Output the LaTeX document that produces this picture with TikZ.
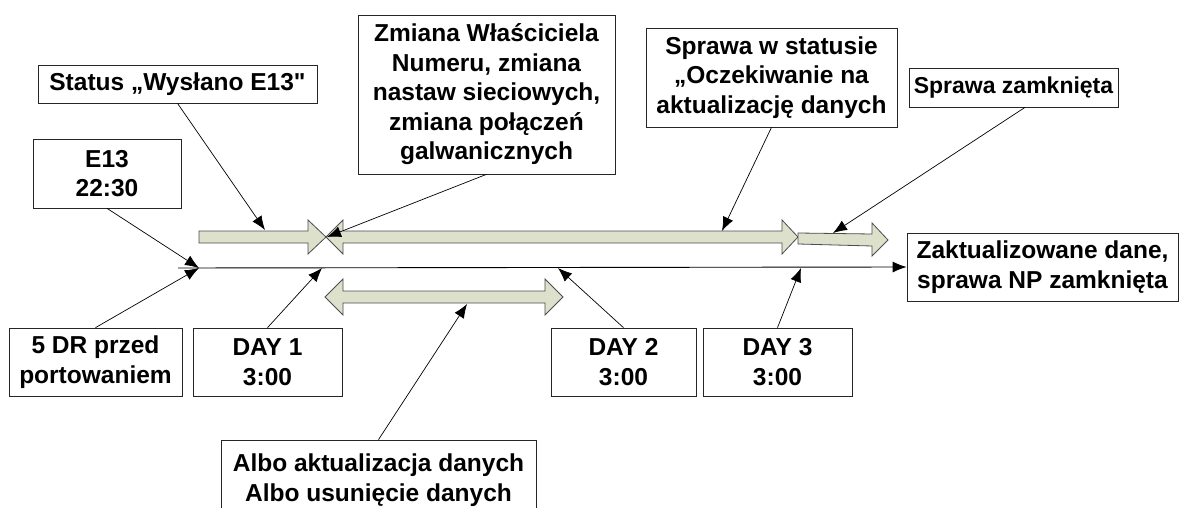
\documentclass[tikz,border=0pt]{standalone}
\usepackage{fontspec}
\setmainfont{Liberation Sans}[Ligatures=TeXOff]
\usepackage{tikz}
\usetikzlibrary{calc,arrows.meta}
\definecolor{barfill}{RGB}{221,224,203}
\tikzset{
	callout/.style = {draw=black!85, line width=0.7pt, align=center, inner sep=0pt,
		font=\fontsize{24.5}{29.5}\selectfont\bfseries},
	bar/.style = {fill=barfill, draw=black!70, line width=0.8pt, line join=miter},
	pointer/.style = {-{Latex[length=14pt,width=11pt]}, line width=0.7pt}
}

\begin{document}
\begin{tikzpicture}[x=1pt,y=-1pt]
	\useasboundingbox (0,0) rectangle (1180,508);
	\clip (0,0) rectangle (1180,508);
	% block arrows
	\draw[bar] (199,231) -- (308,231) -- (308,220) -- (326,237) -- (308,254) -- (308,243) -- (199,243) -- cycle;
	\draw[bar] (326,237) -- (343,220) -- (343,231) -- (782,231) -- (782,220) -- (798,237) -- (782,254) -- (782,243) -- (343,243) -- (343,254) -- cycle;
	\draw[bar] (798,233) -- (872,234) -- (872,223) -- (888,240) -- (872,256) -- (872,246) -- (798,244) -- cycle;
	\draw[bar] (325,297) -- (343,279) -- (343,291) -- (545,291) -- (545,279) -- (563,297) -- (545,315) -- (545,303) -- (343,303) -- (343,315) -- cycle;

	% boxes
	\node[callout, minimum width=279pt, minimum height=38pt] (status) at (177.5,84) {Status „Wysłano E13"};
	\node[callout, minimum width=148pt, minimum height=69pt] (e13) at (107,173.5) {E13\\22:30};
	\node[callout, minimum width=257pt, minimum height=159pt] (zmiana) at (486.5,94.5) {Zmiana Właściciela\\Numeru, zmiana\\nastaw sieciowych,\\zmiana połączeń\\galwanicznych};
	\node[callout, minimum width=251pt, minimum height=99pt] (oczek) at (771.5,77.5) {Sprawa w statusie\\„Oczekiwanie na\\aktualizację danych};
	\node[callout, minimum width=209pt, minimum height=39pt, font=\fontsize{23}{28}\selectfont\bfseries] (zamk) at (1013.5,87.5) {Sprawa zamknięta};
	\node[callout, minimum width=271pt, minimum height=68pt] (zakt) at (1042.5,267) {Zaktualizowane dane,\\sprawa NP zamknięta};
	\node[callout, minimum width=173pt, minimum height=68pt] (dr5) at (95.5,362) {5 DR przed\\portowaniem};
	\node[callout, minimum width=149pt, minimum height=68pt] (day1) at (267.5,362) {DAY 1\\3:00};
	\node[callout, minimum width=145pt, minimum height=68pt] (day2) at (623.5,362) {DAY 2\\3:00};
	\node[callout, minimum width=149pt, minimum height=68pt] (day3) at (777.5,362) {DAY 3\\3:00};
	\node[callout, minimum width=315pt, minimum height=80pt] (albo) at (378.5,480) {Albo aktualizacja danych\\Albo usunięcie danych};

	% time line
	\coordinate (t0) at (178,268);
	\draw[pointer, line width=0.9pt] (t0) -- (zakt.west);

	% pointers
	\coordinate (tStatus) at (265,230);
	\coordinate (tE13) at (199,268);
	\coordinate (tDay1) at (322,268);
	\coordinate (tZmiana) at (327,237);
	\coordinate (tOczek) at (722,231);
	\coordinate (tZamk) at (833,233);
	\coordinate (tDay2) at (558,268);
	\coordinate (tDay3) at (801,268);
	\coordinate (tAlbo) at (467,304);
	\draw[pointer] (status.south) -- (tStatus);
	\draw[pointer] (e13.south) -- (tE13);
	\draw[pointer] (dr5.north) -- (tE13);
	\draw[pointer] (day1.north) -- (tDay1);
	\draw[pointer] (zmiana.south) -- (tZmiana);
	\draw[pointer] (oczek.south) -- (tOczek);
	\draw[pointer] ($(zamk.south west)!.555!(zamk.south east)$) -- (tZamk);
	\draw[pointer] (day2.north) -- (tDay2);
	\draw[pointer] (day3.north) -- (tDay3);
	\draw[pointer] (albo.north) -- (tAlbo);
\end{tikzpicture}
\end{document}
